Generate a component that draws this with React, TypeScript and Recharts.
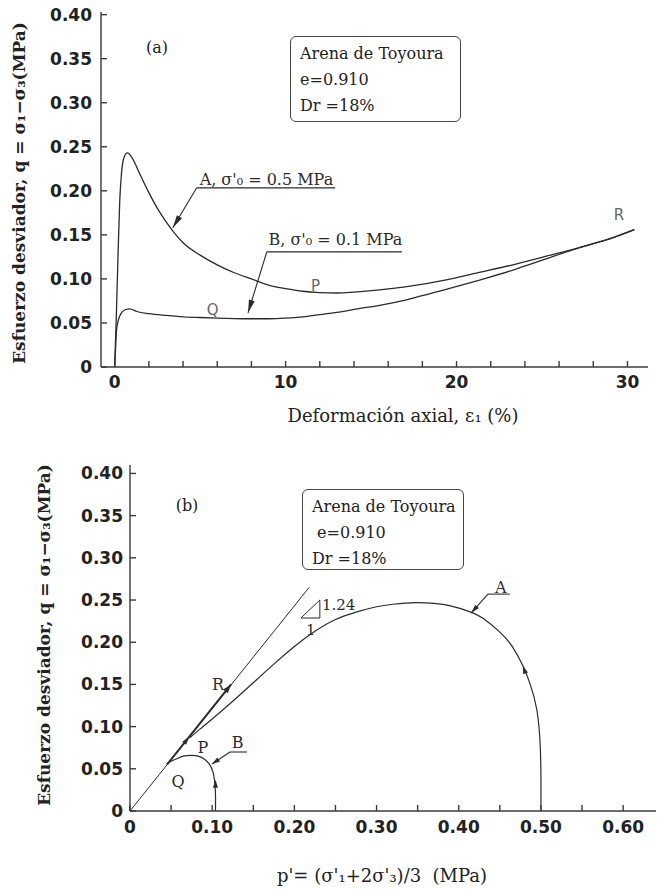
import React from 'react';
import { LineChart, Line, XAxis, YAxis, ReferenceLine, ReferenceDot } from 'recharts';

// (a) esfuerzo desviador vs deformación axial
const strainA = [0, 0.1, 0.2, 0.3, 0.4, 0.55, 0.75, 1.0, 1.5, 2.0, 2.5, 3, 3.5, 4, 5, 6, 7, 8, 9, 10, 11, 12, 13, 14, 15.5, 17, 19.4, 21, 23.3, 25.5, 27, 28.8, 30.4];
const devA = [0, 0.06, 0.13, 0.19, 0.22, 0.238, 0.243, 0.238, 0.218, 0.198, 0.18, 0.165, 0.152, 0.141, 0.127, 0.116, 0.107, 0.1, 0.093, 0.089, 0.086, 0.0845, 0.084, 0.085, 0.0875, 0.091, 0.099, 0.106, 0.116, 0.127, 0.1345, 0.1445, 0.156];
const strainB = [0, 0.05, 0.1, 0.2, 0.35, 0.6, 0.9, 1.3, 2, 3, 4, 5, 6, 7, 8, 9, 10, 11, 12, 13, 14.2, 15.5, 17, 18, 19.4, 20.5, 21.6, 23.3, 24.5, 25.5, 27, 28.8, 30.4];
const devB = [0, 0.02, 0.04, 0.052, 0.06, 0.065, 0.066, 0.063, 0.0605, 0.0585, 0.057, 0.0562, 0.0555, 0.055, 0.0548, 0.0548, 0.0555, 0.057, 0.0595, 0.062, 0.066, 0.07, 0.076, 0.081, 0.088, 0.094, 0.1, 0.11, 0.118, 0.1245, 0.1345, 0.1445, 0.156];

const strainTicks = [0, 2, 4, 6, 8, 10, 12, 14, 16, 18, 20, 22, 24, 26, 28, 30];
const devTicks = [0, 0.05, 0.1, 0.15, 0.2, 0.25, 0.3, 0.35, 0.4];

// (b) trayectorias de esfuerzos p'-q
const pathAp = [0.5, 0.5, 0.499, 0.495, 0.487, 0.478, 0.465, 0.45, 0.43, 0.414, 0.39, 0.37, 0.348, 0.32, 0.3, 0.276, 0.25, 0.225, 0.2, 0.175, 0.15, 0.125, 0.1, 0.085, 0.073];
const pathAq = [0, 0.04, 0.08, 0.12, 0.15, 0.172, 0.195, 0.212, 0.228, 0.236, 0.243, 0.246, 0.247, 0.245, 0.242, 0.236, 0.227, 0.213, 0.195, 0.174, 0.152, 0.13, 0.109, 0.097, 0.087];
const pathBp = [0.104, 0.104, 0.103, 0.101, 0.097, 0.091, 0.083, 0.074, 0.065, 0.057, 0.05, 0.045];
const pathBq = [0, 0.02, 0.035, 0.046, 0.055, 0.061, 0.065, 0.066, 0.065, 0.062, 0.059, 0.056];
const pathRp = [0.045, 0.123];
const pathRq = [0.055, 0.15];
const cslP = [0, 0.218];
const cslQ = [0, 0.265];
const slopeTriP = [0.208, 0.231, 0.231, 0.208];
const slopeTriQ = [0.2287, 0.2287, 0.25, 0.2287];

const pTicks = [0, 0.05, 0.1, 0.15, 0.2, 0.25, 0.3, 0.35, 0.4, 0.45, 0.5, 0.55, 0.6];
const pLabelled = [0, 0.1, 0.2, 0.3, 0.4, 0.5, 0.6];

const zip = (xs: number[], ys: number[]) => xs.map((x, i) => ({ x, y: ys[i] }));

const INK = '#2b2b2b';
const SERIF = '"DejaVu Serif", serif';
const tickFont = { fill: '#222', fontSize: 17, fontFamily: '"DejaVu Sans", sans-serif', fontWeight: 'bold' as const };
const axisLine = { stroke: '#3a3a3a', strokeWidth: 1.4 };

const fmtDev = (v: number) => (v === 0 ? '0' : v.toFixed(2));
const blank = () => '';

const seg = (k: string, x1: number, y1: number, x2: number, y2: number, w = 1.1) => (
  <ReferenceLine key={k} segment={[{ x: x1, y: y1 }, { x: x2, y: y2 }]} stroke={INK} strokeWidth={w} ifOverflow="visible" />
);

const arrow = (k: string, x: number, y: number, angle: number, len = 11, half = 3) => (
  <ReferenceDot
    key={k}
    x={x}
    y={y}
    r={0}
    ifOverflow="visible"
    shape={(p: any) => (
      <polygon
        transform={`translate(${p.cx},${p.cy}) rotate(${angle})`}
        points={`0,0 ${-len},${-half} ${-len},${half}`}
        fill={INK}
      />
    )}
  />
);

const note = (k: string, x: number, y: number, value: string, opts: any = {}) => (
  <ReferenceDot
    key={k}
    x={x}
    y={y}
    r={0}
    ifOverflow="visible"
    shape={(p: any) => (
      <text
        x={p.cx}
        y={p.cy}
        textAnchor={opts.anchor || 'middle'}
        dominantBaseline="central"
        fontFamily={opts.font || SERIF}
        fontSize={opts.size || 16}
        fill={opts.fill || INK}
      >
        {value}
      </text>
    )}
  />
);

function InfoBox({ left, top, width, height, lines }: { left: number; top: number; width: number; height: number; lines: string[] }) {
  return (
    <div
      style={{
        position: 'absolute',
        left,
        top,
        width,
        height,
        boxSizing: 'border-box',
        border: '1.5px solid #444',
        borderRadius: 6,
        padding: '4px 0 0 9px',
        fontFamily: SERIF,
        fontSize: 16,
        lineHeight: '26px',
        color: '#222',
        whiteSpace: 'pre',
        background: '#fff',
      }}
    >
      {lines.map((l) => (
        <div key={l}>{l}</div>
      ))}
    </div>
  );
}

function VTitle({ cx, cy, text }: { cx: number; cy: number; text: string }) {
  return (
    <div
      style={{
        position: 'absolute',
        left: cx,
        top: cy,
        transform: 'translate(-50%, -50%) rotate(-90deg)',
        fontFamily: SERIF,
        fontWeight: 'bold',
        fontSize: 17,
        color: '#222',
        whiteSpace: 'pre',
      }}
    >
      {text}
    </div>
  );
}

function HTitle({ cx, cy, text }: { cx: number; cy: number; text: string }) {
  return (
    <div
      style={{
        position: 'absolute',
        left: cx,
        top: cy,
        transform: 'translate(-50%, -50%)',
        fontFamily: SERIF,
        fontSize: 18,
        color: '#222',
        whiteSpace: 'pre',
      }}
    >
      {text}
    </div>
  );
}

function PanelTag({ cx, cy, text }: { cx: number; cy: number; text: string }) {
  return (
    <div style={{ position: 'absolute', left: cx, top: cy, transform: 'translate(-50%, -50%)', fontFamily: SERIF, fontSize: 16, color: '#222' }}>
      {text}
    </div>
  );
}

function PanelA() {
  return (
    <LineChart width={660} height={440} margin={{ top: 12, right: 12, bottom: 0, left: 0 }}>
      <XAxis
        type="number"
        dataKey="x"
        domain={[-0.8, 31.2]}
        allowDataOverflow
        ticks={strainTicks}
        interval={0}
        tickFormatter={(v: number) => (v % 10 === 0 ? String(v) : '')}
        height={73}
        tickSize={-6}
        tickMargin={15}
        tick={tickFont}
        axisLine={axisLine}
        tickLine={axisLine}
      />
      <XAxis xAxisId="top" orientation="top" type="number" domain={[-0.8, 31.2]} allowDataOverflow ticks={strainTicks} interval={0} tickFormatter={blank} height={0} tickSize={-6} axisLine={axisLine} tickLine={axisLine} />
      <YAxis
        type="number"
        domain={[0, 0.403]}
        allowDataOverflow
        ticks={devTicks}
        interval={0}
        tickFormatter={fmtDev}
        width={101}
        tickSize={-6}
        tickMargin={15}
        tick={tickFont}
        axisLine={axisLine}
        tickLine={axisLine}
      />
      <YAxis yAxisId="right" orientation="right" type="number" domain={[0, 0.403]} allowDataOverflow ticks={devTicks} interval={0} tickFormatter={blank} width={0} tickSize={-6} axisLine={axisLine} tickLine={axisLine} />

      <Line data={zip(strainA, devA)} dataKey="y" type="monotone" stroke={INK} strokeWidth={1.3} dot={false} isAnimationActive={false} />
      <Line data={zip(strainB, devB)} dataKey="y" type="monotone" stroke={INK} strokeWidth={1.3} dot={false} isAnimationActive={false} />

      {note('ta', 4.97, 0.2125, "A, σ'₀ = 0.5 MPa", { anchor: 'start' })}
      {seg('ua', 4.8, 0.2034, 12.9, 0.2034)}
      {seg('la', 4.8, 0.2034, 3.4, 0.158)}
      {arrow('aa', 3.4, 0.158, 121, 13, 3)}

      {note('tb', 9.0, 0.1443, "B, σ'₀ = 0.1 MPa", { anchor: 'start' })}
      {seg('ub', 8.9, 0.1307, 16.8, 0.1307)}
      {seg('lb', 8.9, 0.1307, 7.8, 0.0614)}
      {arrow('ab', 7.8, 0.0614, 107, 13, 3)}

      {note('p', 11.75, 0.092, 'P', { font: '"DejaVu Sans", sans-serif', size: 15, fill: '#666' })}
      {note('q', 5.73, 0.0648, 'Q', { font: '"DejaVu Sans", sans-serif', size: 15, fill: '#666' })}
      {note('r', 29.5, 0.173, 'R', { font: '"DejaVu Sans", sans-serif', size: 15, fill: '#666' })}
    </LineChart>
  );
}

function PanelB() {
  return (
    <LineChart width={660} height={450} margin={{ top: 25, right: 4, bottom: 0, left: 0 }}>
      <XAxis
        type="number"
        dataKey="x"
        domain={[0, 0.64]}
        allowDataOverflow
        ticks={pTicks}
        interval={0}
        tickFormatter={(v: number) => (pLabelled.includes(v) ? fmtDev(v) : '')}
        height={79}
        tickSize={-6}
        tickMargin={16}
        tick={tickFont}
        axisLine={axisLine}
        tickLine={axisLine}
      />
      <XAxis xAxisId="top" orientation="top" type="number" domain={[0, 0.64]} allowDataOverflow ticks={pTicks} interval={0} tickFormatter={blank} height={0} tickSize={-6} axisLine={axisLine} tickLine={axisLine} />
      <YAxis
        type="number"
        domain={[0, 0.41]}
        allowDataOverflow
        ticks={devTicks}
        interval={0}
        tickFormatter={fmtDev}
        width={130}
        tickSize={-6}
        tickMargin={13}
        tick={tickFont}
        axisLine={axisLine}
        tickLine={axisLine}
      />
      <YAxis yAxisId="right" orientation="right" type="number" domain={[0, 0.41]} allowDataOverflow ticks={devTicks} interval={0} tickFormatter={blank} width={0} tickSize={-6} axisLine={axisLine} tickLine={axisLine} />

      <Line data={zip(cslP, cslQ)} dataKey="y" type="linear" stroke={INK} strokeWidth={1} dot={false} isAnimationActive={false} />
      <Line data={zip(slopeTriP, slopeTriQ)} dataKey="y" type="linear" stroke={INK} strokeWidth={1} dot={false} isAnimationActive={false} />
      <Line data={zip(pathAp, pathAq)} dataKey="y" type="natural" stroke={INK} strokeWidth={1.2} dot={false} isAnimationActive={false} />
      <Line data={zip(pathBp, pathBq)} dataKey="y" type="natural" stroke={INK} strokeWidth={1.2} dot={false} isAnimationActive={false} />
      <Line data={zip(pathRp, pathRq)} dataKey="y" type="linear" stroke={INK} strokeWidth={2} dot={false} isAnimationActive={false} />

      {arrow('ca', 0.478, 0.172, -110, 8, 2.5)}
      {arrow('cb', 0.104, 0.037, -90, 8, 2.5)}
      {arrow('cr1', 0.072, 0.0877, -51, 8, 2.5)}
      {arrow('cr2', 0.123, 0.15, -51, 9, 3)}

      {note('ta', 0.451, 0.265, 'A')}
      {seg('ua', 0.4355, 0.257, 0.462, 0.257)}
      {seg('la', 0.4355, 0.257, 0.415, 0.2346)}
      {arrow('aa', 0.415, 0.2346, 132, 9, 2.5)}

      {note('tb', 0.131, 0.0806, 'B')}
      {seg('ub', 0.1217, 0.0699, 0.1423, 0.0699)}
      {seg('lb', 0.1217, 0.0699, 0.0998, 0.0557)}
      {arrow('ab', 0.0998, 0.0557, 146, 8, 2.5)}

      {note('s1', 0.2336, 0.244, '1.24', { anchor: 'start', size: 15 })}
      {note('s2', 0.22, 0.2145, '1', { size: 15 })}
      {note('p', 0.0888, 0.0758, 'P')}
      {note('q', 0.0584, 0.0355, 'Q')}
      {note('r', 0.107, 0.15, 'R')}
    </LineChart>
  );
}

export default function App() {
  return (
    <div style={{ position: 'absolute', left: 0, top: 0, width: 660, height: 890, background: '#fff', overflow: 'hidden' }}>
      <div style={{ position: 'absolute', left: 0, top: 0 }}>
        <PanelA />
      </div>
      <div style={{ position: 'absolute', left: 0, top: 440 }}>
        <PanelB />
      </div>

      <VTitle cx={19} cy={193} text="Esfuerzo desviador, q = σ₁−σ₃(MPa)" />
      <HTitle cx={403} cy={415} text="Deformación axial, ε₁ (%)" />
      <PanelTag cx={157} cy={47} text="(a)" />
      <InfoBox left={290} top={36} width={171} height={86} lines={['Arena de Toyoura', 'e=0.910', 'Dr =18%']} />

      <VTitle cx={44} cy={635} text="Esfuerzo desviador, q = σ₁−σ₃(MPa)" />
      <HTitle cx={382} cy={875} text="p'= (σ'₁+2σ'₃)/3  (MPa)" />
      <PanelTag cx={187} cy={505} text="(b)" />
      <InfoBox left={302} top={489} width={162} height={81} lines={['Arena de Toyoura', ' e=0.910', 'Dr =18%']} />
    </div>
  );
}
